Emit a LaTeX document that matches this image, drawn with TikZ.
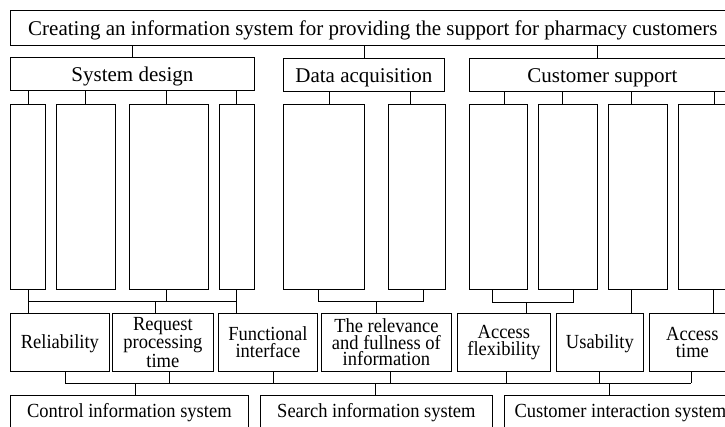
\documentclass[tikz,border=0pt]{standalone}
\usepackage{fontspec}
\setmainfont{Liberation Serif}
\newfontfamily\condf[FakeStretch=0.925]{Liberation Serif}
\newcommand\BX[7]{\node[bx,#6,minimum width={#4bp-#2bp},minimum height={#5bp-#3bp}] (#1) at (#2,#3) {#7};}
\begin{document}
\begin{tikzpicture}[x=1bp,y=-1bp,line width=0.8bp,
  bx/.style={draw,line width=0.8bp,inner sep=0pt,anchor=north west},
  bigf/.style={text height=16.8bp,text depth=2.1bp,font=\fontsize{21bp}{25bp}\selectfont},
  smf/.style={text height=15bp,text depth=2bp,font=\condf\fontsize{20bp}{20bp}\selectfont},
  three/.style={align=center,font=\condf\fontsize{20bp}{16.5bp}\selectfont},
  two/.style={align=center,font=\condf\fontsize{20bp}{17bp}\selectfont}]
\clip (0,0) rectangle (725,426);
% level 1
\BX{top}{10}{10}{735}{45}{bigf}{Creating an information system for providing the support for pharmacy customers}
% level 2
\BX{sd}{10}{57}{254}{90}{bigf}{System design}
\BX{da}{283}{58}{444}{91}{bigf}{Data acquisition}
\BX{cs}{469}{58}{735}{91}{bigf}{Customer support}
% level 3 (empty tall boxes)
\BX{a1}{10}{104}{45}{289}{}{}
\BX{a2}{56}{104}{115}{289}{}{}
\BX{a3}{129}{104}{208}{289}{}{}
\BX{a4}{219}{104}{254}{289}{}{}
\BX{b1}{283}{104}{364}{289}{}{}
\BX{b2}{388}{104}{445}{289}{}{}
\BX{c1}{469}{104}{527}{289}{}{}
\BX{c2}{538}{104}{597}{289}{}{}
\BX{c3}{608}{104}{667}{289}{}{}
\BX{c4}{678}{104}{750}{289}{}{}
% level 4
\BX{r1}{10}{313}{109}{371}{smf}{Reliability}
\BX{r2}{112}{313}{213}{371}{three}{Request\\processing\\time}
\BX{r3}{218}{313}{317}{371}{two}{Functional\\interface}
\BX{r4}{321}{313}{451}{371}{three}{The relevance\\and fullness of\\information}
\BX{r5}{457}{313}{550}{371}{two}{Access\\flexibility}
\BX{r6}{556}{313}{643}{371}{smf}{Usability}
\BX{r7}{649}{313}{735}{371}{two}{Access\\time}
% level 5
\BX{s1}{10}{395}{248}{427}{smf}{Control information system}
\BX{s2}{260}{395}{492}{427}{smf}{Search information system}
\BX{s3}{504}{395}{736}{427}{smf}{Customer interaction system}
% connectors level 1 -> 2
\draw (top.south -| 132,0) -- (sd.north -| 132,0);
\draw (top.south -| 364,0) -- (da.north -| 364,0);
\draw (top.south -| 597,0) -- (cs.north -| 597,0);
% level 2 -> 3
\draw (sd.south -| 28,0) -- (a1.north -| 28,0);
\draw (sd.south -| 85,0) -- (a2.north -| 85,0);
\draw (sd.south -| 166,0) -- (a3.north -| 166,0);
\draw (sd.south -| 236,0) -- (a4.north -| 236,0);
\draw (da.south -| 329,0) -- (b1.north -| 329,0);
\draw (da.south -| 410,0) -- (b2.north -| 410,0);
\draw (cs.south -| 504,0) -- (c1.north -| 504,0);
\draw (cs.south -| 562,0) -- (c2.north -| 562,0);
\draw (cs.south -| 631,0) -- (c3.north -| 631,0);
\draw (cs.south -| 714,0) -- (c4.north -| 714,0);
% level 3 -> 4
\coordinate (bar3) at (0,301);
\coordinate (bar3c) at (0,302.5);
\draw (a1.south -| 28,0) -- (r1.north -| 28,0);
\draw (a4.south -| 236,0) -- (r3.north -| 236,0);
\draw (a3.south -| 166,0) -- (bar3 -| 166,0);
\draw (bar3 -| 28,0) -- (bar3 -| 236,0);
\draw (bar3 -| 155,0) -- (r2.north -| 155,0);
\draw (b1.south -| 318,0) -- (bar3 -| 318,0) -- (bar3 -| 423,0) -- (b2.south -| 423,0);
\draw (bar3 -| 376,0) -- (r4.north -| 376,0);
\draw (c1.south -| 492,0) -- (bar3c -| 492,0) -- (bar3c -| 573,0) -- (c2.south -| 573,0);
\draw (bar3c -| 526,0) -- (r5.north -| 526,0);
\draw (c3.south -| 631,0) -- (r6.north -| 631,0);
\draw (c4.south -| 713,0) -- (r7.north -| 713,0);
% level 4 -> 5
\coordinate (bar4) at (0,383);
\draw (bar4 -| 65,0) -- (bar4 -| 691,0);
\draw (r1.south -| 65,0) -- (bar4 -| 65,0);
\draw (r2.south -| 169,0) -- (bar4 -| 169,0);
\draw (r3.south -| 273,0) -- (bar4 -| 273,0);
\draw (r4.south -| 390,0) -- (bar4 -| 390,0);
\draw (r5.south -| 506,0) -- (bar4 -| 506,0);
\draw (r6.south -| 599,0) -- (bar4 -| 599,0);
\draw (r7.south -| 691,0) -- (bar4 -| 691,0);
\draw (bar4 -| 135,0) -- (s1.north -| 135,0);
\draw (bar4 -| 375,0) -- (s2.north -| 375,0);
\draw (bar4 -| 609,0) -- (s3.north -| 609,0);
\end{tikzpicture}
\end{document}
